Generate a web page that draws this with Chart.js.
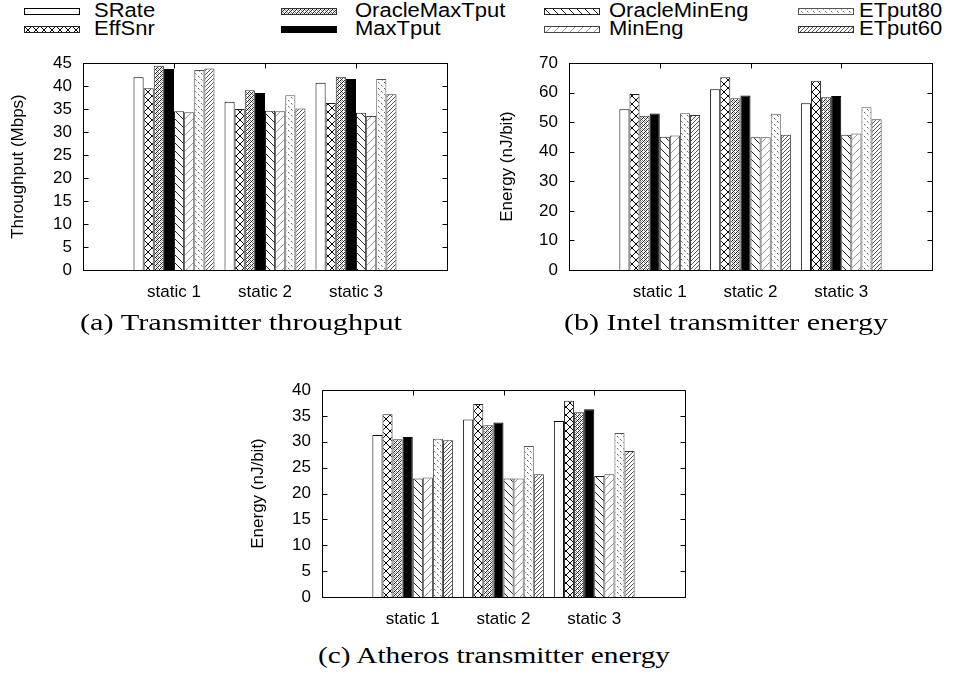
<!DOCTYPE html>
<html>
<head>
<meta charset="utf-8">
<script src="https://cdn.jsdelivr.net/npm/chart.js@4/dist/chart.umd.min.js"></script>
<style>
  html, body { margin: 0; padding: 0; background: #fff; }
  body { width: 964px; height: 682px; position: relative; overflow: hidden; }
  canvas.chart { position: absolute; }
  .cap { position: absolute; font-family: "Liberation Serif", "Times New Roman", serif; font-size: 24px; line-height: 28px; color: #000; white-space: nowrap; transform-origin: 0 50%; }
  .leg { position: absolute; font-family: "Liberation Sans", Arial, sans-serif; font-size: 20px; color: #000; white-space: nowrap; line-height: 20px; transform-origin: 0 50%; transform: scaleX(1.1); }
  .sw { position: absolute; }
</style>
</head>
<body>
<div id="legend"></div>
<canvas id="cA" class="chart" width="470" height="270" style="left:0px;top:40px"></canvas>
<canvas id="cB" class="chart" width="484" height="270" style="left:480px;top:40px"></canvas>
<canvas id="cC" class="chart" width="480" height="270" style="left:230px;top:367px"></canvas>
<div class="cap" data-w="322" style="left:80px;top:308px">(a) Transmitter throughput</div>
<div class="cap" data-w="324" style="left:564px;top:308px">(b) Intel transmitter energy</div>
<div class="cap" data-w="352" style="left:318px;top:641px">(c) Atheros transmitter energy</div>
<script>
// ---------- data ----------
const categories = ['static 1', 'static 2', 'static 3'];
const seriesNames = ['SRate', 'EffSnr', 'OracleMaxTput', 'MaxTput', 'OracleMinEng', 'MinEng', 'ETput80', 'ETput60'];

// (a) Transmitter throughput (Mbps)
const tputSRate         = [41.9, 36.6, 40.7];
const tputEffSnr        = [39.5, 35.0, 36.3];
const tputOracleMaxTput = [44.4, 39.1, 42.0];
const tputMaxTput       = [43.7, 38.5, 41.5];
const tputOracleMinEng  = [34.5, 34.6, 34.2];
const tputMinEng        = [34.3, 34.5, 33.5];
const tputETput80       = [43.5, 38.0, 41.5];
const tputETput60       = [43.8, 35.1, 38.2];

// (b) Intel transmitter energy (nJ/bit)
const intelSRate         = [54.4, 61.1, 56.4];
const intelEffSnr        = [59.5, 65.2, 64.0];
const intelOracleMaxTput = [52.2, 58.1, 58.4];
const intelMaxTput       = [52.9, 59.0, 58.8];
const intelOracleMinEng  = [45.1, 44.9, 45.7];
const intelMinEng        = [45.5, 44.9, 46.2];
const intelETput80       = [53.0, 52.8, 55.0];
const intelETput60       = [52.4, 45.7, 51.0];

// (c) Atheros transmitter energy (nJ/bit)
const athSRate         = [31.3, 34.3, 34.0];
const athEffSnr        = [35.3, 37.3, 37.9];
const athOracleMaxTput = [30.5, 33.2, 35.7];
const athMaxTput       = [30.9, 33.7, 36.3];
const athOracleMinEng  = [22.9, 22.9, 23.4];
const athMinEng        = [23.1, 22.9, 23.7];
const athETput80       = [30.6, 29.2, 31.7];
const athETput60       = [30.3, 23.7, 28.2];

const yTicksA = [0, 5, 10, 15, 20, 25, 30, 35, 40, 45];
const yTicksB = [0, 10, 20, 30, 40, 50, 60, 70];
const yTicksC = [0, 5, 10, 15, 20, 25, 30, 35, 40];

// ---------- fill patterns ----------
function tile(size, draw) {
  const c = document.createElement('canvas');
  c.width = size; c.height = size;
  const g = c.getContext('2d');
  g.fillStyle = '#fff'; g.fillRect(0, 0, size, size);
  draw(g, size);
  return c;
}
function pat(size, draw) {
  const t = tile(size, draw);
  return document.createElement('canvas').getContext('2d').createPattern(t, 'repeat');
}
function line(g, x1, y1, x2, y2, col, w) {
  g.strokeStyle = col; g.lineWidth = w || 1;
  g.beginPath(); g.moveTo(x1, y1); g.lineTo(x2, y2); g.stroke();
}
const fills = [
  '#ffffff',
  pat(8, (g, s) => { line(g, 0, 0, s, s, '#000'); line(g, s, 0, 0, s, '#000'); }),
  pat(4, (g, s) => {
    g.fillStyle = '#222'; g.fillRect(0, 0, 1, 1); g.fillRect(2, 2, 1, 1); g.fillRect(1, 3, 1, 1); g.fillRect(3, 1, 1, 1);
    g.fillStyle = '#777'; g.fillRect(2, 0, 1, 1); g.fillRect(0, 2, 1, 1);
    g.fillStyle = '#aaa'; g.fillRect(1, 1, 1, 1);
  }),
  '#000000',
  pat(8, (g, s) => { line(g, 0, 0, s, s, '#222'); line(g, -1, s - 1, 1, s + 1, '#222'); }),
  pat(8, (g, s) => { line(g, 0, s, s, 0, '#999'); }),
  pat(6, (g, s) => { g.fillStyle = '#666'; g.fillRect(0, 0, 1, 1); g.fillRect(3, 3, 1, 1); g.fillStyle = '#aaa'; g.fillRect(1, 1, 1, 1); g.fillRect(4, 4, 1, 1); }),
  pat(4, (g, s) => { line(g, 0, s, s, 0, '#555'); })
];
const borders = ['#000', '#222', '#333', '#000', '#222', '#444', '#555', '#333'];

// ---------- legend (HTML text, canvas swatches) ----------
// [swatch x, swatch y, text x, text y]
const legPos = [
  [24, 8, 94, 0], [24, 26, 94, 18],
  [281, 8, 355, 0], [281, 26, 355, 18],
  [544, 8, 609, 0], [544, 26, 609, 18],
  [798, 8, 859, 0], [798, 26, 859, 18]
];
const legendDiv = document.getElementById('legend');
seriesNames.forEach((name, si) => {
  const [sx, sy, tx, ty] = legPos[si];
  const cv = document.createElement('canvas');
  cv.className = 'sw'; cv.width = 56; cv.height = 7;
  cv.style.left = sx + 'px'; cv.style.top = sy + 'px';
  const g = cv.getContext('2d');
  g.fillStyle = fills[si]; g.fillRect(0, 0, 56, 7);
  g.strokeStyle = borders[si]; g.lineWidth = 1; g.strokeRect(0.5, 0.5, 55, 6);
  legendDiv.appendChild(cv);
  const t = document.createElement('div');
  t.className = 'leg'; t.textContent = name;
  t.style.left = tx + 'px'; t.style.top = ty + 'px';
  legendDiv.appendChild(t);
});

// captions: stretch horizontally to the reference width
document.querySelectorAll('.cap').forEach(el => {
  const w = el.getBoundingClientRect().width;
  el.style.transform = 'scaleX(' + (parseFloat(el.dataset.w) / w) + ')';
});

// ---------- frame + inward ticks ----------
const framePlugin = {
  id: 'frame',
  afterDatasetsDraw(chart) {
    const { ctx, chartArea: a, scales: { x, y } } = chart;
    ctx.save();
    ctx.strokeStyle = '#000'; ctx.lineWidth = 1;
    const L = Math.round(a.left) + 0.5, R = Math.round(a.right) + 0.5;
    const T = Math.round(a.top) + 0.5, B = Math.round(a.bottom) + 0.5;
    ctx.beginPath();
    y.ticks.forEach(t => {
      const py = Math.round(y.getPixelForValue(t.value)) + 0.5;
      ctx.moveTo(L, py); ctx.lineTo(L + 5, py);
      ctx.moveTo(R, py); ctx.lineTo(R - 5, py);
    });
    chart.data.labels.forEach((l, i) => {
      if (!l) return;
      const px = Math.round(x.getPixelForValue(i)) + 0.5;
      ctx.moveTo(px, T); ctx.lineTo(px, T + 5);
    });
    ctx.stroke();
    ctx.strokeRect(L, T, R - L, B - T);
    ctx.restore();
  }
};

const sansFont = "'Liberation Sans', Arial, sans-serif";

function makeChart(id, seriesData, yTicks, yTitle, yAxisWidth, titlePad, padTop, padRight) {
  const labels = ['', ...categories, ''];
  new Chart(document.getElementById(id), {
    type: 'bar',
    data: {
      labels,
      datasets: seriesNames.map((n, i) => ({
        label: n,
        data: [null, ...seriesData[i], null],
        backgroundColor: fills[i],
        borderColor: borders[i],
        borderWidth: 1,
        categoryPercentage: 0.89,
        barPercentage: 1.0
      }))
    },
    options: {
      responsive: false,
      animation: false,
      devicePixelRatio: 1,
      layout: { padding: { top: padTop, right: padRight, left: 0, bottom: 0 } },
      plugins: { legend: { display: false }, tooltip: { enabled: false } },
      scales: {
        x: {
          type: 'category',
          offset: false,
          grid: { display: false, drawTicks: false, offset: false },
          border: { display: false },
          ticks: { color: '#000', font: { family: sansFont, size: 17 }, padding: 12, autoSkip: false, maxRotation: 0 },
          afterFit: s => { s.height = 40; }
        },
        y: {
          min: yTicks[0], max: yTicks[yTicks.length - 1],
          afterBuildTicks: s => { s.ticks = yTicks.map(v => ({ value: v })); },
          grid: { display: false, drawTicks: false },
          border: { display: false },
          ticks: { color: '#000', font: { family: sansFont, size: 17 }, padding: 11, autoSkip: false },
          title: { display: true, text: yTitle, color: '#000', font: { family: sansFont, size: 17 }, padding: { top: titlePad, bottom: 0 } },
          afterFit: s => { s.width = yAxisWidth; }
        }
      }
    },
    plugins: [framePlugin]
  });
}

makeChart('cA',
  [tputSRate, tputEffSnr, tputOracleMaxTput, tputMaxTput, tputOracleMinEng, tputMinEng, tputETput80, tputETput60],
  yTicksA, 'Throughput (Mbps)', 83, 8, 23, 23);
makeChart('cB',
  [intelSRate, intelEffSnr, intelOracleMaxTput, intelMaxTput, intelOracleMinEng, intelMinEng, intelETput80, intelETput60],
  yTicksB, 'Energy (nJ/bit)', 89, 17, 23, 32);
makeChart('cC',
  [athSRate, athEffSnr, athOracleMaxTput, athMaxTput, athOracleMinEng, athMinEng, athETput80, athETput60],
  yTicksC, 'Energy (nJ/bit)', 92, 18, 23, 25);
</script>
</body>
</html>
